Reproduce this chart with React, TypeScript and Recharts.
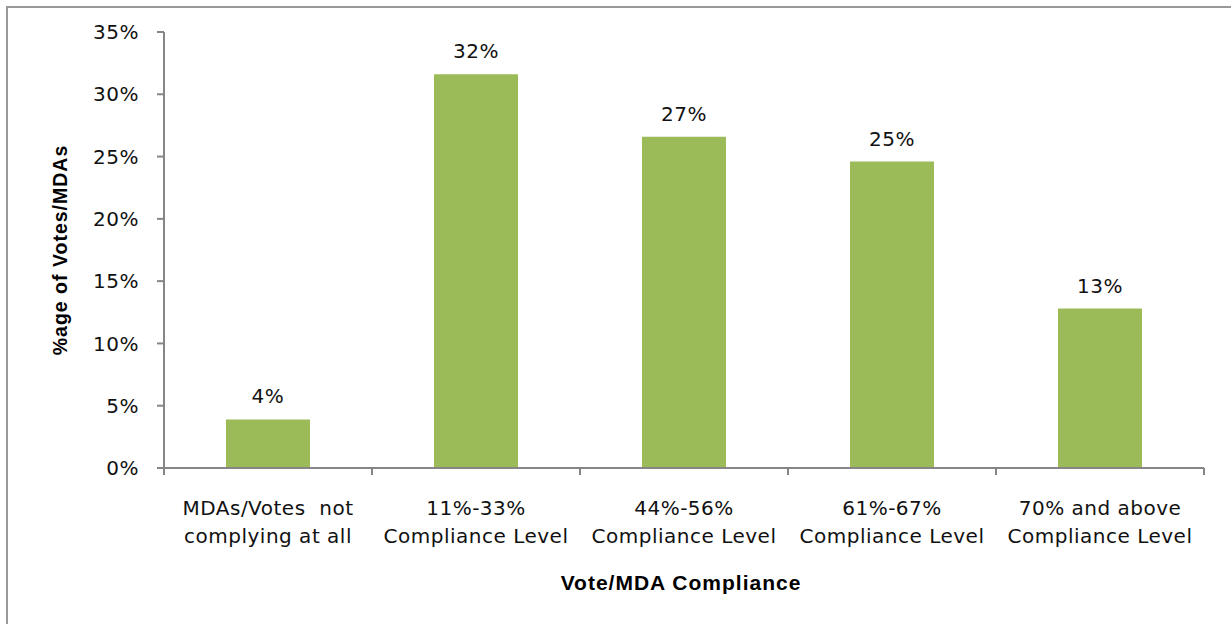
import React from 'react';
import { BarChart, Bar, XAxis, YAxis, LabelList } from 'recharts';

// compliance categories (two lines each) and share of votes/MDAs in %
const categories = [
  'MDAs/Votes  not\ncomplying at all',
  '11%-33%\nCompliance Level',
  '44%-56%\nCompliance Level',
  '61%-67%\nCompliance Level',
  '70% and above\nCompliance Level',
];
const shares = [3.9, 31.6, 26.6, 24.6, 12.8];
const yTicks = [0, 5, 10, 15, 20, 25, 30, 35];

const X_TITLE = 'Vote/MDA Compliance';
const Y_TITLE = '%age of Votes/MDAs';

const W = 1231;
const H = 624;
const MARGIN = { top: 32, right: 27, bottom: 0, left: 0 };
const Y_AXIS_W = 164;
const X_AXIS_H = 156;
const BAND = (W - MARGIN.left - MARGIN.right - Y_AXIS_W) / categories.length;

const AXIS_COLOR = '#868686';
const BAR_COLOR = '#9BBB59';
const TICK_FONT = '"DejaVu Sans", Verdana, sans-serif';
const TITLE_FONT = '"Liberation Sans", Arial, sans-serif';

const data = categories.map((name, i) => ({ name, value: shares[i] }));

function CategoryTick(props: any) {
  const { x, y, payload, index } = props;
  const lines = String(payload.value).split('\n');
  const left = x - BAND / 2;
  const right = x + BAND / 2;
  return (
    <g>
      <line x1={left} x2={left} y1={y} y2={y + 7} stroke={AXIS_COLOR} strokeWidth={2} />
      {index === categories.length - 1 && (
        <line x1={right} x2={right} y1={y} y2={y + 7} stroke={AXIS_COLOR} strokeWidth={2} />
      )}
      <text
        x={x}
        y={y}
        textAnchor="middle"
        fill="#111"
        fontFamily={TICK_FONT}
        fontSize={20}
        letterSpacing={0.5}
        style={{ whiteSpace: 'pre' }}
      >
        {lines.map((l, i) => (
          <tspan key={i} x={x} dy={i === 0 ? 47 : 28}>
            {l}
          </tspan>
        ))}
      </text>
    </g>
  );
}

export default function App() {
  return (
    <div style={{ position: 'relative', width: W, height: H, overflow: 'hidden', background: '#fff' }}>
      <style>{'body{margin:0}'}</style>
      <div
        style={{
          position: 'absolute',
          left: 6,
          top: 6,
          width: W + 40,
          height: H + 40,
          border: '2px solid #999',
        }}
      />
      <div style={{ position: 'absolute', left: 0, top: 0 }}>
        <BarChart width={W} height={H} data={data} margin={MARGIN} barCategoryGap="29.8%">
          <XAxis
            dataKey="name"
            height={X_AXIS_H}
            interval={0}
            tickLine={false}
            tickSize={0}
            tickMargin={0}
            stroke={AXIS_COLOR}
            strokeWidth={2}
            tick={<CategoryTick />}
            label={{
              content: (p: any) => (
                <text
                  x={p.viewBox.x + p.viewBox.width / 2 - 3}
                  y={590}
                  textAnchor="middle"
                  fontFamily={TITLE_FONT}
                  fontWeight="bold"
                  fontSize={21}
                  letterSpacing={1}
                  fill="#000"
                >
                  {X_TITLE}
                </text>
              ),
            }}
          />
          <YAxis
            width={Y_AXIS_W}
            domain={[0, 35]}
            ticks={yTicks}
            interval={0}
            tickFormatter={(v: number) => `${v}%`}
            stroke={AXIS_COLOR}
            strokeWidth={2}
            tickSize={7}
            tickMargin={18}
            tick={{ fill: '#111', fontFamily: TICK_FONT, fontSize: 20, letterSpacing: 0.5 }}
            label={{
              content: (p: any) => {
                const cy = p.viewBox.y + p.viewBox.height / 2;
                return (
                  <text
                    x={60}
                    y={cy}
                    transform={`rotate(-90, 60, ${cy})`}
                    textAnchor="middle"
                    dominantBaseline="central"
                    fontFamily={TITLE_FONT}
                    fontWeight="bold"
                    fontSize={19.5}
                    letterSpacing={1}
                    fill="#000"
                  >
                    {Y_TITLE}
                  </text>
                );
              },
            }}
          />
          <Bar dataKey="value" fill={BAR_COLOR} isAnimationActive={false}>
            <LabelList
              dataKey="value"
              position="top"
              offset={16}
              formatter={(v: any) => `${Math.round(Number(v))}%`}
              style={{ fill: '#111', fontFamily: TICK_FONT, fontSize: 20, letterSpacing: 0.5 }}
            />
          </Bar>
        </BarChart>
      </div>
    </div>
  );
}
